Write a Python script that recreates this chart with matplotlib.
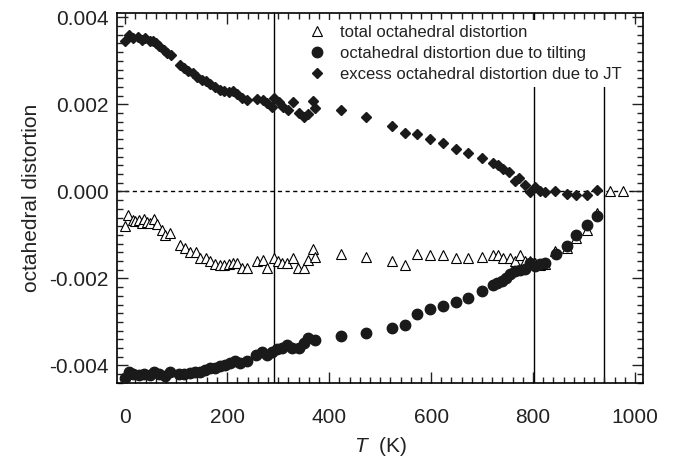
import matplotlib
matplotlib.use('Agg')
import matplotlib.pyplot as plt
from matplotlib.ticker import MultipleLocator, FormatStrFormatter

plt.rcParams['font.family'] = ['Liberation Sans', 'DejaVu Sans']
plt.rcParams['mathtext.fontset'] = 'custom'
plt.rcParams['mathtext.it'] = 'Liberation Sans:italic'
plt.rcParams['mathtext.rm'] = 'Liberation Sans'
plt.rcParams['axes.unicode_minus'] = False

# excess octahedral distortion due to JT (diamonds)
t_jt = [0, 8, 16, 25, 33, 39, 48, 55, 61, 67, 75, 82, 90, 108, 116, 124, 133, 141,
        150, 159, 167, 176, 185, 193, 203, 211, 219, 229, 239, 258, 270, 278, 288,
        292, 301, 309, 320, 329, 340, 350, 359, 369, 373, 423, 473, 523, 549, 573,
        598, 623, 649, 673, 699, 722, 732, 742, 752, 765, 773, 784, 794, 804, 814,
        824, 843, 866, 885, 905, 925]
d_jt = [0.00345, 0.0036, 0.00352, 0.00354, 0.00349, 0.00352, 0.00346, 0.00346,
        0.00341, 0.00333, 0.00326, 0.00318, 0.00314, 0.00291, 0.00283, 0.00276,
        0.00272, 0.00264, 0.00257, 0.00253, 0.00247, 0.00239, 0.00234, 0.0023,
        0.00228, 0.0023, 0.00224, 0.00215, 0.00209, 0.00213, 0.00211, 0.00203,
        0.00195, 0.00215, 0.00205, 0.00193, 0.00188, 0.00205, 0.0018, 0.00172,
        0.00178, 0.00207, 0.00192, 0.00186, 0.00172, 0.0015, 0.00134, 0.00133,
        0.00121, 0.00111, 0.00098, 0.00088, 0.00077, 0.00065, 0.0006, 0.00052,
        0.00044, 0.00023, 0.00031, 0.00015, -0.00002, 0.00009, 0.00002, -0.00002,
        0.00002, -0.00006, -0.00008, -0.00008, 0.00004]

# total octahedral distortion (open triangles)
t_tot = [0, 6, 15, 20, 26, 33, 37, 42, 49, 57, 62, 72, 78, 88, 108, 118, 127, 139,
         147, 159, 167, 176, 185, 193, 203, 211, 219, 229, 239, 258, 270, 278, 291,
         299, 307, 317, 329, 338, 350, 359, 369, 373, 423, 473, 523, 549, 573, 598,
         624, 649, 673, 699, 722, 732, 742, 754, 765, 775, 784, 794, 804, 814, 824,
         843, 866, 885, 905, 925, 951, 976]
d_tot = [-0.0008, -0.00054, -0.00065, -0.00069, -0.00065, -0.00073, -0.00063,
         -0.00071, -0.00073, -0.00063, -0.00075, -0.00088, -0.001, -0.00096,
         -0.00124, -0.0013, -0.0014, -0.0014, -0.00153, -0.00153, -0.00159,
         -0.00167, -0.0017, -0.00169, -0.00167, -0.00165, -0.00165, -0.00176,
         -0.00176, -0.00161, -0.00157, -0.00175, -0.00153, -0.00159, -0.00165,
         -0.00165, -0.00153, -0.00175, -0.00175, -0.00157, -0.00132, -0.0015,
         -0.00144, -0.0015, -0.00159, -0.00169, -0.00144, -0.00146, -0.00147,
         -0.00152, -0.00152, -0.0015, -0.00146, -0.00147, -0.00152, -0.00152,
         -0.00161, -0.00147, -0.00159, -0.00161, -0.00165, -0.00168, -0.00166,
         -0.00138, -0.0013, -0.00107, -0.00088, -0.0005, 0.00002, 0.00002]

# octahedral distortion due to tilting (filled circles)
t_tilt = [0, 8, 16, 26, 36, 48, 57, 67, 78, 88, 106, 116, 126, 137, 147, 157, 167,
          176, 186, 196, 206, 216, 225, 239, 257, 268, 278, 288, 297, 307, 317, 327,
          340, 350, 359, 373, 423, 473, 523, 549, 573, 598, 624, 649, 673, 699, 722,
          730, 739, 747, 755, 765, 775, 784, 794, 804, 814, 824, 845, 866, 885, 905,
          925]
d_tilt = [-0.00428, -0.00414, -0.0042, -0.00421, -0.0042, -0.00421, -0.00415,
          -0.0042, -0.00423, -0.00415, -0.0042, -0.0042, -0.00418, -0.00414,
          -0.00415, -0.0041, -0.00406, -0.00406, -0.00402, -0.00398, -0.00395,
          -0.00389, -0.00395, -0.00389, -0.00376, -0.00368, -0.00377, -0.0037,
          -0.00362, -0.00359, -0.00354, -0.0036, -0.0036, -0.00349, -0.00336,
          -0.00341, -0.00333, -0.00326, -0.00314, -0.00308, -0.00282, -0.0027,
          -0.00264, -0.00253, -0.00245, -0.00228, -0.00215, -0.00211, -0.00205,
          -0.00198, -0.0019, -0.00184, -0.0018, -0.00178, -0.00165, -0.00172,
          -0.00167, -0.00165, -0.00144, -0.00126, -0.00101, -0.00078, -0.00057]

transitions = [292, 802, 940]

fig = plt.figure(figsize=(6.77, 4.63), dpi=100)
ax = fig.add_axes([0.173, 0.173, 0.777, 0.799])

for t in transitions:
    ax.axvline(t, color='black', lw=1.0, zorder=1)
ax.axhline(0, color='black', lw=1.0, ls=(0, (3, 2.5)), zorder=1)

ax.plot(t_tot, d_tot, ls='none', marker='^', ms=7, mfc='white', mec='black',
        mew=0.8, label='total octahedral distortion', zorder=3)
ax.plot(t_tilt, d_tilt, ls='none', marker='o', ms=7.5, color='#1a1a1a',
        label='octahedral distortion due to tilting', zorder=4)
ax.plot(t_jt, d_jt, ls='none', marker='D', ms=5.5, color='#1a1a1a',
        label='excess octahedral distortion due to JT', zorder=4)

ax.set_xlim(-16, 1016)
ax.set_ylim(-0.0044, 0.0041)
ax.xaxis.set_major_locator(MultipleLocator(200))
ax.xaxis.set_minor_locator(MultipleLocator(20))
ax.yaxis.set_major_locator(MultipleLocator(0.002))
ax.yaxis.set_minor_locator(MultipleLocator(0.0002))
ax.yaxis.set_major_formatter(FormatStrFormatter('%.3f'))
ax.tick_params(which='both', direction='in', top=True, right=True,
               labelsize=15, colors='#222222')
ax.tick_params(which='major', length=8, width=1)
ax.tick_params(which='minor', length=4.5, width=1)
ax.tick_params(axis='x', which='major', pad=18)
ax.tick_params(axis='y', which='major', pad=6)
for s in ax.spines.values():
    s.set_linewidth(1.2)

ax.set_xlabel(r'$T$  (K)', fontsize=15, color='#222222', labelpad=6)
ax.set_ylabel('octahedral distortion', fontsize=15, color='#222222', labelpad=6)

leg = ax.legend(loc='upper left', bbox_to_anchor=(0.351, 0.981), fontsize=12,
                frameon=True, framealpha=1, edgecolor='none', facecolor='white',
                handletextpad=0.8, borderpad=0.3, labelspacing=0.35,
                handlelength=1.2, borderaxespad=0)
for text in leg.get_texts():
    text.set_color('#222222')
leg.set_zorder(5)

fig.savefig('out.png', dpi=100)
